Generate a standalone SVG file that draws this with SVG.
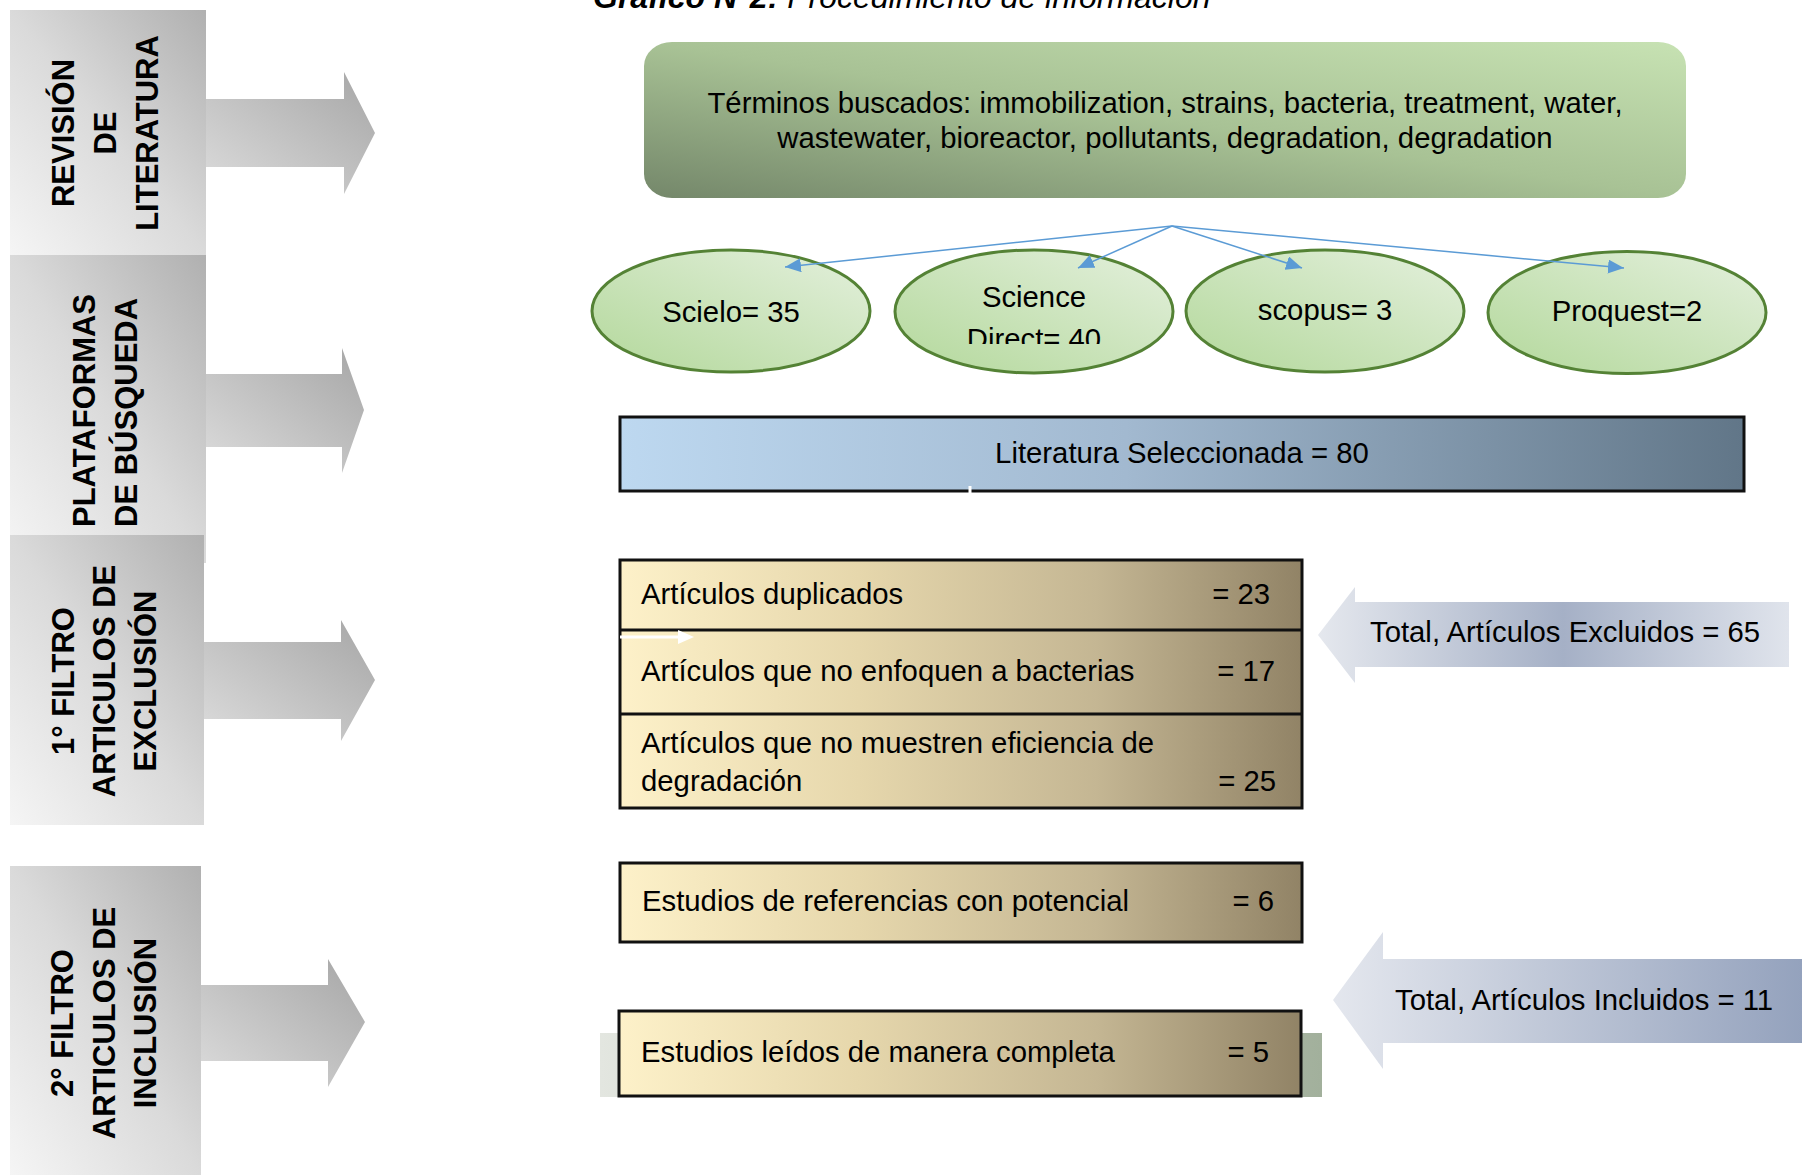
<svg xmlns="http://www.w3.org/2000/svg" width="1802" height="1175" viewBox="0 0 1802 1175">
<defs>
<style>
text{font-family:"Liberation Sans",Arial,sans-serif;fill:#000;}
.t{font-size:29.3px;}
.side{font-size:31px;font-weight:bold;}
.ctr{text-anchor:middle;}
.end{text-anchor:end;}
.conn{stroke:#5b9bd5;stroke-width:1.5;fill:none;}
.ell{fill:url(#gEll);stroke:#548235;stroke-width:3;}
.tan{fill:url(#gTan);stroke:#111;stroke-width:3;}
</style>
<linearGradient id="gGreenBox" x1="0" y1="1" x2="1" y2="0">
<stop offset="0" stop-color="#74876a"/>
<stop offset="0.5" stop-color="#a8c295"/>
<stop offset="1" stop-color="#c7e2b3"/>
</linearGradient>
<linearGradient id="gEll" x1="0" y1="1" x2="1" y2="0">
<stop offset="0" stop-color="#b3d89b"/>
<stop offset="1" stop-color="#e4f0dd"/>
</linearGradient>
<linearGradient id="gLit" x1="0" y1="0" x2="1" y2="0">
<stop offset="0" stop-color="#bdd8f0"/>
<stop offset="0.45" stop-color="#a2b9d0"/>
<stop offset="1" stop-color="#617688"/>
</linearGradient>
<linearGradient id="gTan" x1="0" y1="0" x2="1" y2="0">
<stop offset="0" stop-color="#fdf1c9"/>
<stop offset="0.35" stop-color="#e6d7ac"/>
<stop offset="0.7" stop-color="#c4b693"/>
<stop offset="1" stop-color="#918366"/>
</linearGradient>
<linearGradient id="gGrayBox" x1="0" y1="1" x2="1" y2="0">
<stop offset="0" stop-color="#f5f5f5"/>
<stop offset="0.5" stop-color="#dadada"/>
<stop offset="1" stop-color="#b0b0b0"/>
</linearGradient>
<linearGradient id="gGrayArrow" x1="0" y1="1" x2="1" y2="0">
<stop offset="0" stop-color="#dcdcdc"/>
<stop offset="1" stop-color="#a6a6a6"/>
</linearGradient>
<linearGradient id="gExcl" x1="0" y1="0" x2="1" y2="0">
<stop offset="0" stop-color="#e5e8ee"/>
<stop offset="0.52" stop-color="#a5b0c6"/>
<stop offset="1" stop-color="#e0e4ec"/>
</linearGradient>
<linearGradient id="gIncl" x1="0" y1="0" x2="1" y2="0">
<stop offset="0" stop-color="#e4e7ee"/>
<stop offset="1" stop-color="#94a2bd"/>
</linearGradient>
<linearGradient id="gShadow" x1="0" y1="0" x2="1" y2="0">
<stop offset="0" stop-color="#e3e6e0"/>
<stop offset="1" stop-color="#a2b09c"/>
</linearGradient>
<marker id="ah" markerUnits="userSpaceOnUse" markerWidth="18" markerHeight="16" refX="16" refY="7" orient="auto">
<path d="M0,0 L16,7 L0,14 Z" fill="#5b9bd5"/>
</marker>
<clipPath id="clipSD"><rect x="880" y="240" width="310" height="104"/></clipPath>
</defs>

<text id="title" x="593" y="8" style="font-size:32px;font-style:italic;"><tspan font-weight="bold">Gráfico N°2:</tspan> Procedimiento de información</text>

<!-- Left column -->
<g id="stage1">
<rect x="10" y="10" width="196" height="245" fill="url(#gGrayBox)"/>
<path d="M206,99 L344,99 L344,72 L375,133 L344,194 L344,167 L206,167 Z" fill="url(#gGrayArrow)"/>
<g transform="translate(0,133) rotate(-90)">
<text class="side ctr" x="0" y="74">REVISIÓN</text>
<text class="side ctr" x="0" y="116">DE</text>
<text class="side ctr" x="0" y="158">LITERATURA</text>
</g>
</g>
<g id="stage2">
<rect x="10" y="255" width="196" height="308" fill="url(#gGrayBox)"/>
<path d="M206,374 L342,374 L342,348 L364,410 L342,473 L342,447 L206,447 Z" fill="url(#gGrayArrow)"/>
<g transform="translate(0,527) rotate(-90)">
<text class="side" x="0" y="95">PLATAFORMAS</text>
<text class="side" x="0" y="137">DE BÚSQUEDA</text>
</g>
</g>
<g id="stage3">
<rect x="10" y="535" width="194" height="290" fill="url(#gGrayBox)"/>
<path d="M204,642 L341,642 L341,620 L375,680 L341,741 L341,719 L204,719 Z" fill="url(#gGrayArrow)"/>
<g transform="translate(0,681) rotate(-90)">
<text class="side ctr" x="0" y="74">1° FILTRO</text>
<text class="side ctr" x="0" y="115">ARTICULOS DE</text>
<text class="side ctr" x="0" y="156">EXCLUSIÓN</text>
</g>
</g>
<g id="stage4">
<rect x="10" y="866" width="191" height="309" fill="url(#gGrayBox)"/>
<path d="M201,985 L328,985 L328,959 L365,1022 L328,1087 L328,1061 L201,1061 Z" fill="url(#gGrayArrow)"/>
<g transform="translate(0,1023) rotate(-90)">
<text class="side ctr" x="0" y="73">2° FILTRO</text>
<text class="side ctr" x="0" y="115">ARTICULOS DE</text>
<text class="side ctr" x="0" y="156">INCLUSIÓN</text>
</g>
</g>

<!-- Search terms -->
<g id="terms">
<rect x="644" y="42" width="1042" height="156" rx="28" ry="24" fill="url(#gGreenBox)"/>
<text class="t ctr" x="1165" y="113">Términos buscados: immobilization, strains, bacteria, treatment, water,</text>
<text class="t ctr" x="1165" y="148">wastewater, bioreactor, pollutants, degradation, degradation</text>
</g>

<!-- Databases -->
<g id="scielo">
<ellipse class="ell" cx="731" cy="311" rx="139" ry="61"/>
<text class="t ctr" x="731" y="322">Scielo= 35</text>
</g>
<g id="sciencedirect">
<ellipse class="ell" cx="1034" cy="311.5" rx="139" ry="61.5"/>
<text class="t ctr" x="1034" y="307">Science</text>
<text class="t ctr" x="1034" y="349" clip-path="url(#clipSD)">Direct= 40</text>
</g>
<g id="scopus">
<ellipse class="ell" cx="1325" cy="311" rx="139" ry="61"/>
<text class="t ctr" x="1325" y="320">scopus= 3</text>
</g>
<g id="proquest">
<ellipse class="ell" cx="1627" cy="312.5" rx="139" ry="61"/>
<text class="t ctr" x="1627" y="321">Proquest=2</text>
</g>

<!-- Connectors -->
<g id="connectors">
<line class="conn" x1="1172" y1="226" x2="785" y2="267" marker-end="url(#ah)"/>
<line class="conn" x1="1172" y1="226" x2="1078" y2="268" marker-end="url(#ah)"/>
<line class="conn" x1="1172" y1="226" x2="1302" y2="268" marker-end="url(#ah)"/>
<line class="conn" x1="1172" y1="226" x2="1624" y2="268" marker-end="url(#ah)"/>
</g>

<!-- Selected literature -->
<g id="selected">
<rect x="620" y="417" width="1124" height="74" fill="url(#gLit)" stroke="#111" stroke-width="3"/>
<line x1="970" y1="486" x2="970" y2="494" stroke="#fff" stroke-width="3"/>
<text class="t ctr" x="1182" y="463">Literatura Seleccionada = 80</text>
</g>

<!-- Exclusion -->
<g id="exclusion">
<rect class="tan" x="620" y="560" width="682" height="248"/>
<line x1="620" y1="630" x2="1302" y2="630" stroke="#111" stroke-width="3"/>
<line x1="620" y1="714" x2="1302" y2="714" stroke="#111" stroke-width="3"/>
<line x1="620" y1="637" x2="680" y2="637" stroke="#fff" stroke-width="3"/>
<path d="M678,630 L694,637 L678,644 Z" fill="#fff"/>
<text class="t" x="641" y="604">Artículos duplicados</text>
<text class="t end" x="1270" y="604">= 23</text>
<text class="t" x="641" y="681">Artículos que no enfoquen a bacterias</text>
<text class="t end" x="1275" y="681">= 17</text>
<text class="t" x="641" y="753">Artículos que no muestren eficiencia de</text>
<text class="t" x="641" y="791">degradación</text>
<text class="t end" x="1276" y="791">= 25</text>
</g>

<g id="total-excluded">
<path d="M1318,635 L1355,587 L1355,602 L1789,602 L1789,667 L1355,667 L1355,683 Z" fill="url(#gExcl)"/>
<text class="t" x="1370" y="642">Total, Artículos Excluidos = 65</text>
</g>

<!-- Inclusion -->
<g id="references">
<rect class="tan" x="620" y="863" width="682" height="79"/>
<text class="t" x="642" y="911">Estudios de referencias con potencial</text>
<text class="t end" x="1274" y="911">= 6</text>
</g>
<g id="fullread">
<rect x="600" y="1033" width="722" height="64" fill="url(#gShadow)"/>
<rect class="tan" x="619" y="1011" width="682" height="85"/>
<text class="t" x="641" y="1062">Estudios leídos de manera completa</text>
<text class="t end" x="1269" y="1062">= 5</text>
</g>

<g id="total-included">
<path d="M1333,1000 L1383,932 L1383,959 L1802,959 L1802,1043 L1383,1043 L1383,1069 Z" fill="url(#gIncl)"/>
<text class="t" x="1395" y="1010">Total, Artículos Incluidos = 11</text>
</g>
</svg>
